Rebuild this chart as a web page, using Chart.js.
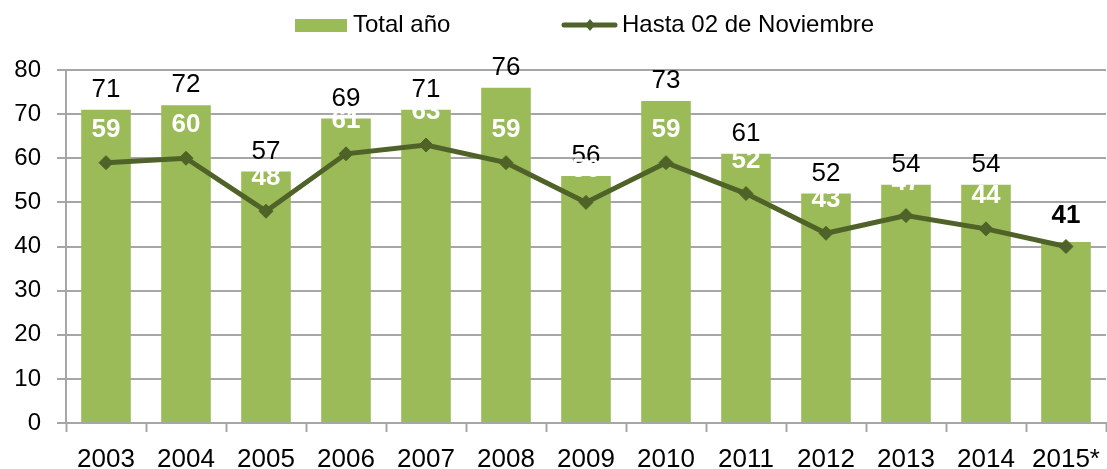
<!DOCTYPE html>
<html lang="es">
<head>
<meta charset="UTF-8">
<script src="https://cdn.jsdelivr.net/npm/chart.js"></script>
<style>
    html, body { margin: 0; padding: 0; overflow: hidden; background: #fff; }
    .chart_box { width: 1114px; height: 469px; }
</style>
</head>
<body>
<div class="chart_box"><canvas id="totalChart"></canvas></div>

<script>
    const years = ['2003', '2004', '2005', '2006', '2007', '2008', '2009', '2010', '2011', '2012', '2013', '2014', '2015*'];
    const total_year = [71, 72, 57, 69, 71, 76, 56, 73, 61, 52, 54, 54, 41];
    const until_nov = [59, 60, 48, 61, 63, 59, 50, 59, 52, 43, 47, 44, 40];
    const y_min = 0, y_max = 80, y_step = 10;

    const font_family = '"Liberation Sans", Arial, sans-serif';
    const bar_color = '#9bbb59';
    const line_color = '#4f6228';
    const grid_color = '#a6a6a6';

    Chart.defaults.font.family = font_family;

    // leyenda dibujada a mano arriba
    const topLegend = {
        id: 'topLegend',
        afterDraw(chart) {
            const ctx = chart.ctx;
            const ds = chart.data.datasets;
            ctx.save();
            ctx.font = '24px ' + font_family;
            ctx.textBaseline = 'middle';
            ctx.textAlign = 'left';

            ctx.fillStyle = ds[0].backgroundColor;
            ctx.fillRect(295, 19, 52, 13);
            ctx.fillStyle = '#000';
            ctx.fillText(ds[0].label, 353, 25);

            ctx.strokeStyle = ds[1].borderColor;
            ctx.lineWidth = 5;
            ctx.lineCap = 'round';
            ctx.beginPath();
            ctx.moveTo(564, 25);
            ctx.lineTo(615, 25);
            ctx.stroke();
            ctx.fillStyle = ds[1].borderColor;
            ctx.beginPath();
            ctx.moveTo(590, 19);
            ctx.lineTo(595, 25);
            ctx.lineTo(590, 31);
            ctx.lineTo(585, 25);
            ctx.closePath();
            ctx.fill();
            ctx.fillStyle = '#000';
            ctx.fillText(ds[1].label, 622, 25);
            ctx.restore();
        }
    };

    // etiquetas de valores
    const valueLabels = {
        id: 'valueLabels',
        afterDatasetsDraw(chart) {
            const ctx = chart.ctx;
            ctx.save();
            ctx.textAlign = 'center';
            ctx.textBaseline = 'middle';
            chart.getDatasetMeta(0).data.forEach((bar, i) => {
                const partial = years[i].endsWith('*');
                ctx.font = (partial ? 'bold ' : '') + '26px ' + font_family;
                ctx.fillStyle = '#000';
                ctx.fillText(total_year[i], bar.x, bar.y - (partial ? 26 : 20));
            });
            chart.getDatasetMeta(1).data.forEach((pt, i) => {
                if (years[i].endsWith('*')) return;
                ctx.font = 'bold 26px ' + font_family;
                ctx.fillStyle = '#fff';
                ctx.fillText(until_nov[i], pt.x, pt.y - 33);
            });
            ctx.restore();
        }
    };

    new Chart(document.getElementById('totalChart'), {
        type: 'bar',
        data: {
            labels: years,
            datasets: [{
                type: 'bar',
                label: 'Total año',
                data: total_year,
                backgroundColor: bar_color,
                barPercentage: 0.62,
                categoryPercentage: 1,
                order: 2
            }, {
                type: 'line',
                label: 'Hasta 02 de Noviembre',
                data: until_nov,
                borderColor: line_color,
                backgroundColor: line_color,
                borderWidth: 5,
                tension: 0,
                pointStyle: 'rectRot',
                pointRadius: 7,
                pointBorderWidth: 1,
                order: 1
            }]
        },
        options: {
            responsive: true,
            maintainAspectRatio: false,
            animation: false,
            layout: { padding: { top: 70, left: 0, right: 0, bottom: 0 } },
            plugins: {
                legend: { display: false },
                tooltip: { enabled: false }
            },
            scales: {
                x: {
                    offset: true,
                    grid: { offset: true, drawOnChartArea: false, tickLength: 9, tickColor: grid_color, tickWidth: 2 },
                    border: { color: grid_color, width: 2 },
                    ticks: { color: '#000', font: { size: 26 }, padding: 12, maxRotation: 0, autoSkip: false },
                    afterFit(scale) { scale.height = 46; }
                },
                y: {
                    min: y_min,
                    max: y_max,
                    ticks: { stepSize: y_step, color: '#000', font: { size: 24 }, padding: 16 },
                    grid: { color: grid_color, lineWidth: 2, tickLength: 9 },
                    border: { color: grid_color, width: 2 },
                    afterFit(scale) { scale.width = 66; }
                }
            }
        },
        plugins: [valueLabels, topLegend]
    });
</script>
</body>
</html>
